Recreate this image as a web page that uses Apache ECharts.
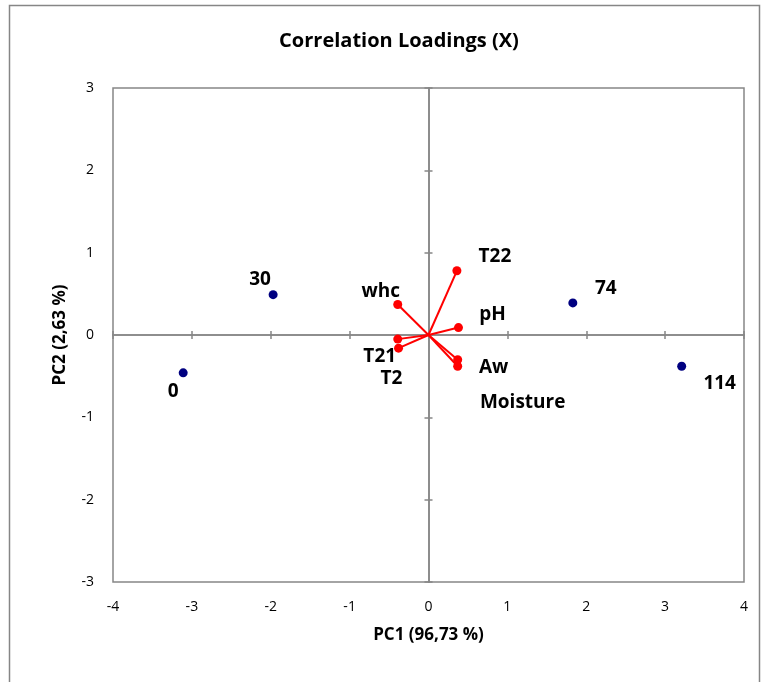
<!DOCTYPE html>
<html>
<head>
<meta charset="utf-8">
<script src="https://cdn.jsdelivr.net/npm/echarts@6/dist/echarts.min.js"></script>
<style>
  html, body { margin: 0; padding: 0; background: #fff; }
  #chart { width: 768px; height: 682px; }
</style>
</head>
<body>
<div id="chart"></div>
<script>
// scores (samples)
const scoreNames = ['0', '30', '74', '114']
const scoreX = [-3.11, -1.97, 1.83, 3.21]
const scoreY = [-0.46, 0.49, 0.39, -0.38]

// loadings (variables)
const varNames = ['T22', 'whc', 'pH', 'T21', 'T2', 'Aw', 'Moisture']
const varX = [0.36, -0.39, 0.38, -0.39, -0.38, 0.37, 0.37]
const varY = [0.78, 0.37, 0.09, -0.05, -0.16, -0.30, -0.38]

const xTicks = [-4, -3, -2, -1, 0, 1, 2, 3, 4]
const yTicks = [-3, -2, -1, 0, 1, 2, 3]

// label placement (px, from point centre)
const scoreLabelOffset = [[-10, 19], [-13, -15], [33, -14], [38, 17]]
const varLabelOffset = [[38, -14], [-17, -13], [34, -13], [-18, 17], [-7, 30], [36, 8], [65, 36]]

const FONT = '"Open Sans", Lato, sans-serif'
const GRAY = '#868686'

const chart = echarts.init(document.getElementById('chart'))

const labelStyle = {
    show: true,
    position: 'inside',
    color: '#000',
    fontFamily: FONT,
    fontWeight: 'bold',
    fontSize: 19,
}

let series = []

// red loading vectors from origin
varNames.forEach((name, i) => {
    series.push({
        name: name,
        type: 'line',
        xAxisIndex: 0,
        yAxisIndex: 0,
        symbol: 'circle',
        symbolSize: 9,
        showSymbol: true,
        z: 5,
        lineStyle: { color: '#FF0000', width: 2 },
        itemStyle: { color: '#FF0000', opacity: 1 },
        data: [
            { value: [0, 0], symbol: 'none' },
            {
                value: [varX[i], varY[i]],
                label: Object.assign({}, labelStyle, {
                    formatter: name,
                    offset: varLabelOffset[i],
                }),
            },
        ],
    })
})

series.push({
    name: 'scores',
    type: 'scatter',
    xAxisIndex: 0,
    yAxisIndex: 0,
    symbolSize: 9,
    z: 6,
    itemStyle: { color: '#000080', opacity: 1 },
    data: scoreNames.map((n, i) => ({
        value: [scoreX[i], scoreY[i]],
        label: Object.assign({}, labelStyle, {
            formatter: n,
            offset: scoreLabelOffset[i],
        }),
    })),
})

const baseAxis = {
    type: 'value',
    min: -4,
    max: 4,
    interval: 1,
    splitLine: { show: false },
}

var option = {
    animation: false,
    backgroundColor: '#fff',
    title: {
        text: 'Correlation Loadings (X)',
        left: 394,
        top: 26,
        textAlign: 'center',
        textStyle: { fontFamily: FONT, fontWeight: 'bold', fontSize: 20, color: '#000' },
    },
    graphic: [
        {
            type: 'rect',
            shape: { x: 9.5, y: 5.5, width: 750, height: 720 },
            style: { fill: 'none', stroke: GRAY, lineWidth: 1.5 },
            silent: true,
            z: -10,
        },
    ],
    grid: {
        left: 113,
        right: 24,
        top: 88,
        bottom: 100,
        show: true,
        borderColor: GRAY,
        borderWidth: 1.5,
    },
    xAxis: [
        Object.assign({}, baseAxis, {
            position: 'bottom',
            axisLine: { show: false, onZero: false },
            axisTick: { show: false },
            axisLabel: {
                margin: 18,
                color: '#000',
                fontFamily: FONT,
                fontSize: 14,
                formatter: v => (xTicks.includes(v) ? String(v) : ''),
            },
            name: 'PC1 (96,73 %)',
            nameLocation: 'middle',
            nameGap: 45,
            nameTextStyle: { fontFamily: FONT, fontWeight: 'bold', fontSize: 17, color: '#000' },
        }),
        Object.assign({}, baseAxis, {
            position: 'bottom',
            axisLine: { show: true, onZero: true, lineStyle: { color: GRAY, width: 1.5 } },
            axisTick: { show: true, length: 4, lineStyle: { color: GRAY, width: 1.5 } },
            axisLabel: { show: false },
        }),
        Object.assign({}, baseAxis, {
            position: 'top',
            axisLine: { show: true, onZero: true, lineStyle: { color: GRAY, width: 1.5 } },
            axisTick: { show: true, length: 4, lineStyle: { color: GRAY, width: 1.5 } },
            axisLabel: { show: false },
        }),
    ],
    yAxis: [
        {
            type: 'value',
            min: -3,
            max: 3,
            interval: 1,
            position: 'left',
            splitLine: { show: false },
            axisLine: { show: false, onZero: false },
            axisTick: { show: false },
            axisLabel: {
                margin: 19,
                color: '#000',
                fontFamily: FONT,
                fontSize: 14,
                formatter: v => (yTicks.includes(v) ? String(v) : ''),
            },
            name: 'PC2 (2,63 %)',
            nameLocation: 'middle',
            nameGap: 44,
            nameTextStyle: { fontFamily: FONT, fontWeight: 'bold', fontSize: 17, color: '#000' },
        },
        {
            type: 'value',
            min: -3,
            max: 3,
            interval: 1,
            position: 'left',
            splitLine: { show: false },
            axisLine: { show: true, onZero: true, lineStyle: { color: GRAY, width: 1.5 } },
            axisTick: { show: true, length: 4, lineStyle: { color: GRAY, width: 1.5 } },
            axisLabel: { show: false },
        },
        {
            type: 'value',
            min: -3,
            max: 3,
            interval: 1,
            position: 'right',
            splitLine: { show: false },
            axisLine: { show: true, onZero: true, lineStyle: { color: GRAY, width: 1.5 } },
            axisTick: { show: true, length: 4, lineStyle: { color: GRAY, width: 1.5 } },
            axisLabel: { show: false },
        },
    ],
    series: series,
}

option && chart.setOption(option)
</script>
</body>
</html>
